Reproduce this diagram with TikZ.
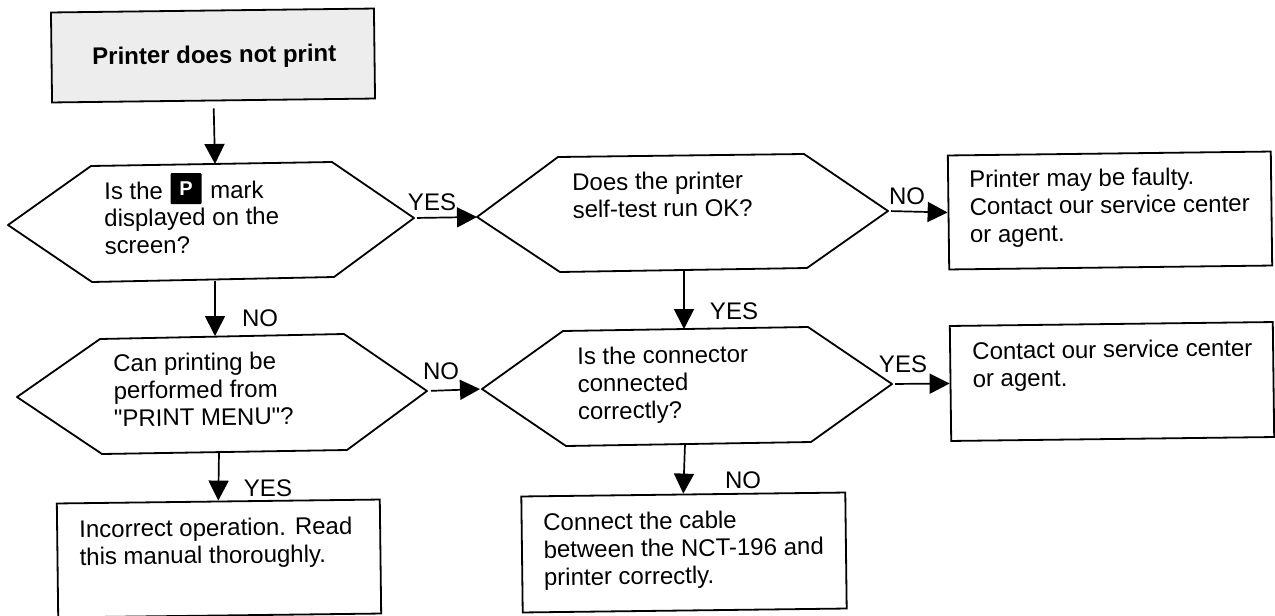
\documentclass[tikz,border=0pt]{standalone}
\usepackage{fontspec}
\setmainfont{Liberation Sans}[Ligatures=TeXOff]
\usepackage{xcolor}
\usetikzlibrary{arrows.meta}
\usetikzlibrary{calc}
\tikzset{hexbox/.style={draw=black, line width=1.8pt, line join=round},
 txtbox/.style={draw=black, line width=1.8pt, inner sep=0pt, rotate=0.7},
 txtlabel/.style={font=\fontsize{24pt}{27.5pt}\selectfont, align=left, anchor=north west, inner sep=0pt, rotate=0.7},
 flowarrow/.style={black, line width=1.7pt, -{Triangle[length=20pt,width=20pt]}},
 answord/.style={font=\fontsize{24pt}{27pt}\selectfont, inner sep=0pt}}
\begin{document}
\begin{tikzpicture}[x=1pt,y=-1pt]
\useasboundingbox (0,0) rectangle (1275,616);
\fill[white] (0,0) rectangle (1275,616);
% start box
\node[txtbox, fill=black!7, minimum width=323, minimum height=90] (start) at (213,55.5) {};
\node[txtlabel, font=\fontsize{24pt}{27pt}\selectfont\bfseries] (starttxt) at (92,47) {Printer does not print};
% hexagons
\coordinate (q1left) at (8,225);
\coordinate (q1right) at (414,218);
\coordinate (q1top) at (215,164);
\coordinate (q1bot) at (215,281);
\draw[hexbox] (q1left)--(91,166)--(332,162)--(q1right)--(334,277)--(92,282)--cycle;
\coordinate (q2left) at (477,217);
\coordinate (q2right) at (888,211);
\coordinate (q2top) at (684,155);
\coordinate (q2bot) at (684,271);
\draw[hexbox] (q2left)--(558,157)--(804,154)--(q2right)--(807,268)--(560,272)--cycle;
\coordinate (q3left) at (17,397);
\coordinate (q3right) at (427,391);
\coordinate (q3top) at (215,336);
\coordinate (q3bot) at (219,452);
\draw[hexbox] (q3left)--(100,339)--(344,334)--(q3right)--(347,450)--(102,454)--cycle;
\coordinate (q4left) at (482,389);
\coordinate (q4right) at (892,384);
\coordinate (q4top) at (684,329);
\coordinate (q4bot) at (685,444);
\draw[hexbox] (q4left)--(563,331)--(808,327)--(q4right)--(811,442)--(566,446)--cycle;
% text boxes
\node[txtbox, minimum width=323, minimum height=114] (faulty) at (1110,210.5) {};
\node[txtbox, minimum width=323, minimum height=115] (agent) at (1112,381.5) {};
\node[txtbox, minimum width=323, minimum height=114] (manual) at (219,558.5) {};
\node[txtbox, minimum width=324, minimum height=116] (cable) at (684,552.5) {};
% question text
\node[txtlabel] (q1a) at (104,182) {Is the};
\node[fill=black, rounded corners=1pt, minimum width=31, minimum height=31, inner sep=0pt, text=white, font=\fontsize{20pt}{20pt}\selectfont\bfseries] (pmark) at (186,188.5) {P};
\node[txtlabel] (q1b) at (210,181) {mark};
\node[txtlabel] (q1c) at (104,209) {displayed on the\\screen?};
\node[txtlabel] (q2) at (572,173) {Does the printer\\self-test run OK?};
\node[txtlabel] (q3) at (113,354) {Can printing be\\performed from\\"PRINT MENU"?};
\node[txtlabel] (q4) at (577,347) {Is the connector\\connected\\correctly?};
% box text
\node[txtlabel] (faultytxt) at (969,170) {Printer may be faulty.\\Contact our service center\\or agent.};
\node[txtlabel] (agenttxt) at (972,342) {Contact our service center\\or agent.};
\node[txtlabel] (manualtxt) at (79,520) {Incorrect operation. Read\\this manual thoroughly.};
\node[txtlabel] (cabletxt) at (543,513) {Connect the cable\\between the NCT-196 and\\printer correctly.};
% arrows
\draw[flowarrow, shorten <=7pt] (start.south) -- (q1top);
\draw[flowarrow, shorten <=3pt] (q1right) -- (q2left);
\draw[flowarrow, shorten <=3pt] (q2right) -- (faulty.west);
\draw[flowarrow] (q1bot) -- (q3top);
\draw[flowarrow] (q2bot) -- (q4top);
\draw[flowarrow, shorten <=4pt, shorten >=2pt] (q3right) -- (q4left);
\draw[flowarrow, shorten <=3pt] (q4right) -- (agent.west);
\draw[flowarrow] (q3bot) -- (manual.north);
\draw[flowarrow] (q4bot) -- (cable.north);
% answers
\node[answord] (ans1) at (432,202) {YES};
\node[answord] (ans2) at (907,196) {NO};
\node[answord] (ans3) at (260,318) {NO};
\node[answord] (ans4) at (734,311) {YES};
\node[answord] (ans5) at (441,371) {NO};
\node[answord] (ans6) at (903,364) {YES};
\node[answord] (ans7) at (268,488) {YES};
\node[answord] (ans8) at (743,480) {NO};
\end{tikzpicture}
\end{document}
